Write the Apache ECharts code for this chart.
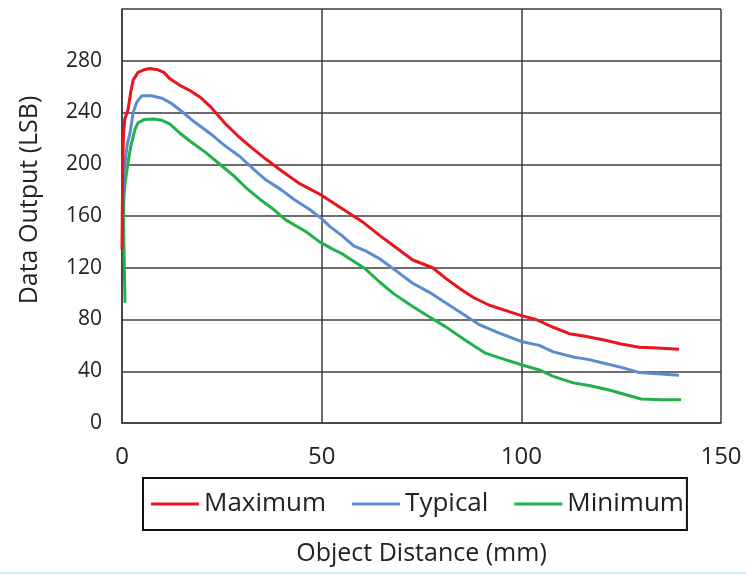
<!DOCTYPE html>
<html>
<head>
<meta charset="utf-8">
<script src="https://cdn.jsdelivr.net/npm/echarts@6/dist/echarts.min.js"></script>
<style>html,body{margin:0;padding:0;background:#fff}#c{width:746px;height:575px}</style>
</head>
<body>
<div id="c"></div>
<script>
const seriesNames = ['Maximum', 'Typical', 'Minimum'];
const xTicks = [0, 50, 100, 150];
const yTicks = [0, 40, 80, 120, 160, 200, 240, 280];

const maximum = [[0,134],[0.1,170],[0.2,200],[0.35,222],[0.7,235],[1.5,242],[2.2,256],[2.8,265],[4,271],[5.5,273],[7,274],[9,273],[10.5,271],[12,266],[14.5,261],[17,257],[19.5,252],[22,245],[26,231],[29,222],[32,214],[36,204],[39.5,196],[44.5,185],[47,181],[50,176],[54,168],[57,162],[60,156],[64.5,145],[68,137],[72.8,126],[77.8,120],[81,112],[85,103],[88,97],[92,91],[96,87],[100,83],[103.7,80],[108,74],[112,69],[116,67],[121,64],[125,61],[129.5,58.5],[134,58],[139.5,57]];
const typical = [[0.1,160],[0.4,190],[0.75,201],[1.3,215],[2,224],[2.8,240],[3.7,248],[5,253],[7.4,253],[10,251],[12.4,247],[15.3,240],[18,233],[22,224],[25.5,215],[29.5,206],[33,196],[36,188],[40,180],[43,173],[47,165],[50,158],[52,152],[55,145],[58,137],[61,133],[64.5,127],[68.5,118],[72.8,108],[77,101],[81,93],[85,85],[89.5,76],[94,70],[100,63],[104.5,60],[108,55],[113,51],[117,49],[121,46],[125,43],[129.5,39],[134,38],[139.5,37]];
const minimum = [[0.75,93],[0.35,160],[0.5,175],[0.8,186],[1.6,203],[2.2,214],[3.25,227],[4,232],[5.5,234.5],[7.8,235],[10,234],[12,231],[14.5,224],[17,218],[21,209],[24.5,200],[28,191],[31,182],[34.5,173],[38,165],[41,157],[46,148],[49.5,140],[53,134],[55,131],[58,125],[61,119],[64.5,109],[68,100],[72.8,90],[77,82],[81,74.5],[86,64],[91,54],[95,50],[100,45],[104.5,41],[108,36],[113,31],[117,29],[122,25.5],[126,22],[130,18.5],[135,18],[140,18]];

const colors = ['#e8141e', '#5b8ccf', '#22b04b'];
const FONT = 'Open Sans';
const chart = echarts.init(document.getElementById('c'), null, {renderer: 'canvas'});
const gridLine = {show: true, lineStyle: {color: '#3c3c3c', width: 1.5}};
chart.setOption({
  animation: false,
  backgroundColor: '#ffffff',
  textStyle: {fontFamily: FONT},
  grid: {left: 122, right: 25, top: 9, bottom: 152, containLabel: false},
  legend: {
    data: seriesNames,
    left: 143, top: 478,
    orient: 'horizontal',
    icon: 'rect',
    itemWidth: 48, itemHeight: 3,
    itemGap: 26,
    padding: [13, 3, 13, 8],
    borderColor: '#111', borderWidth: 2,
    textStyle: {fontFamily: FONT, fontSize: 26, color: '#222'}
  },
  xAxis: {
    type: 'value', min: 0, max: 150, interval: 50,
    name: 'Object Distance (mm)', nameLocation: 'middle', nameGap: 118,
    nameTextStyle: {fontFamily: FONT, fontSize: 25, color: '#222'},
    axisLine: {show: true, lineStyle: {color: '#3c3c3c', width: 1.5}},
    axisTick: {show: false},
    axisLabel: {fontFamily: FONT, fontSize: 24, color: '#222', margin: 22,
      formatter: v => xTicks.includes(v) ? String(v) : ''},
    splitLine: gridLine
  },
  yAxis: {
    type: 'value', min: 0, max: 320, interval: 40,
    axisLine: {show: true, lineStyle: {color: '#3c3c3c', width: 1.5}},
    axisTick: {show: false},
    axisLabel: {fontFamily: FONT, fontSize: 21, color: '#222', margin: 20,
      formatter: v => yTicks.includes(v) ? String(v) : ''},
    splitLine: gridLine
  },
  graphic: [{
    type: 'text', x: 30, y: 200, rotation: Math.PI / 2,
    style: {text: 'Data Output (LSB)', fontFamily: FONT, fontSize: 25, fill: '#222',
      align: 'center', verticalAlign: 'middle'}
  }, {
    type: 'rect', left: 0, bottom: 1, shape: {width: 746, height: 2},
    style: {fill: '#c6ecfa'}, silent: true
  }],
  series: [
    {name: seriesNames[0], type: 'line', data: maximum, showSymbol: false, z: 4,
      lineStyle: {color: colors[0], width: 3}, itemStyle: {color: colors[0]}},
    {name: seriesNames[1], type: 'line', data: typical, showSymbol: false, z: 3,
      lineStyle: {color: colors[1], width: 3}, itemStyle: {color: colors[1]}},
    {name: seriesNames[2], type: 'line', data: minimum, showSymbol: false, z: 2,
      lineStyle: {color: colors[2], width: 3}, itemStyle: {color: colors[2]}}
  ]
});
</script>
</body>
</html>
